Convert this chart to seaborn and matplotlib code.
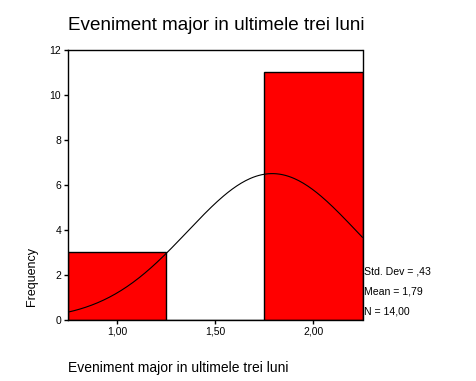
import numpy as np
import pandas as pd
import matplotlib
matplotlib.use("Agg")
import matplotlib.pyplot as plt
import seaborn as sns

# Data (3 cases at 1, 11 cases at 2)
categories = [1.0, 2.0]
counts = [3, 11]
bin_edges = [0.75, 1.25, 1.75, 2.25]
x_ticks = [1.0, 1.5, 2.0]
x_tick_labels = ["1,00", "1,50", "2,00"]
y_ticks = [0, 2, 4, 6, 8, 10, 12]
std_dev = 0.43
mean_val = 1.79
n_val = 14
title = "Eveniment major in ultimele trei luni"
xlabel = "Eveniment major in ultimele trei luni"
ylabel = "Frequency"
stats_lines = ["Std. Dev = ,43", "Mean = 1,79", "N = 14,00"]

values = np.repeat(categories, counts)
df = pd.DataFrame({"v": values})

sns.set_style("white")
plt.rcParams["font.family"] = ["Liberation Sans", "DejaVu Sans"]
plt.rcParams["text.color"] = "black"

fig = plt.figure(figsize=(4.76, 3.81), dpi=100)
ax = fig.add_axes([68/476, 1-320/381, (362.5-68)/476, (320-49.5)/381])

sns.histplot(data=df, x="v", bins=bin_edges, stat="count",
             color="#ff0000", alpha=1.0, edgecolor="black", linewidth=1.0, ax=ax)

# fitted normal curve (SPSS style): N * binwidth * pdf
bw = bin_edges[1] - bin_edges[0]
xs = np.linspace(bin_edges[0], bin_edges[-1], 200)
ys = n_val * bw / (std_dev * np.sqrt(2*np.pi)) * np.exp(-0.5*((xs-mean_val)/std_dev)**2)
sns.lineplot(x=xs, y=ys, color="black", linewidth=0.8, ax=ax)

ax.set_xlim(bin_edges[0], bin_edges[-1])
ax.set_ylim(0, 12)
ax.set_xticks(x_ticks)
ax.set_xticklabels(x_tick_labels)
ax.set_yticks(y_ticks)
ax.tick_params(axis="both", direction="out", length=3, width=1, labelsize=7.5,
               pad=2, colors="black", labelcolor="black", bottom=True, left=True)
for s in ax.spines.values():
    s.set_visible(True)
    s.set_color("black")
    s.set_linewidth(1.0)

ax.set_xlabel("")
ax.set_ylabel("")
fig.text(68/476, 1-368/381, xlabel, fontsize=10, ha="left", va="center", color="black")
fig.text(32/476, 1-277/381, ylabel, fontsize=9, ha="center", va="center", rotation=90, color="black")
fig.text(68/476, 1-25/381, title, fontsize=13.6, ha="left", va="center", color="black")

for i, line in enumerate(stats_lines):
    fig.text(364/476, 1-(271 + 20.5*i)/381, line, fontsize=7.6, ha="left", va="center", color="black")

fig.savefig("out.png", dpi=100)
